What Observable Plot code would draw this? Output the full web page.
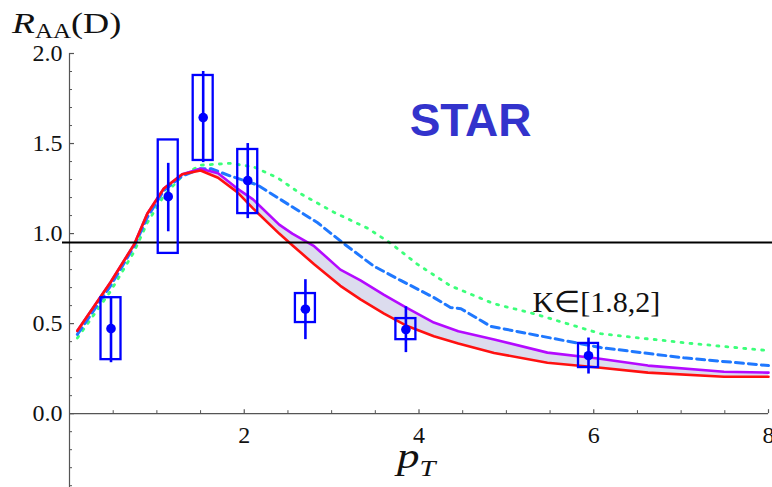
<!DOCTYPE html>
<html><head><meta charset="utf-8">
<script src="https://cdn.jsdelivr.net/npm/d3@7"></script>
<script src="https://cdn.jsdelivr.net/npm/@observablehq/plot@0.6"></script>
<style>body{margin:0;background:#fff;} #chart{width:772px;height:487px;}</style>
</head><body><div id="chart"></div>
<script>
// ---- theory curves (red / magenta band share x grid) ----
const bandX   = [0.09,0.47,0.74,0.89,1.08,1.29,1.5,1.7,1.92,2.1,2.4,2.55,2.8,3.1,3.33,3.6,3.85,4.17,4.45,4.86,5.47,6.05,6.62,7.49,8.0];
const redY    = [0.46,0.73,0.94,1.11,1.25,1.33,1.35,1.31,1.23,1.14,1.0,0.935,0.83,0.71,0.635,0.556,0.49,0.43,0.39,0.337,0.283,0.256,0.228,0.205,0.205];
const magentaY= [0.46,0.73,0.94,1.11,1.25,1.33,1.36,1.335,1.25,1.19,1.05,1.0,0.93,0.8,0.74,0.66,0.59,0.506,0.458,0.412,0.339,0.306,0.267,0.233,0.228];
const blueX   = [0.09,0.47,0.74,0.89,1.08,1.29,1.5,1.62,1.84,2.15,2.38,2.84,3.14,3.48,3.79,4.17,4.36,4.48,4.82,5.51,6.08,7.03,8.0];
const blueY   = [0.44,0.71,0.93,1.09,1.24,1.32,1.36,1.36,1.32,1.27,1.2,1.06,0.944,0.82,0.74,0.645,0.59,0.583,0.485,0.42,0.367,0.31,0.267];
const greenX  = [0.09,0.47,0.74,0.89,1.08,1.29,1.5,1.84,2.11,2.38,2.65,3.02,3.41,3.68,3.98,4.36,4.86,5.31,6.08,7.03,8.0];
const greenY  = [0.42,0.68,0.9,1.06,1.21,1.32,1.38,1.39,1.37,1.31,1.22,1.12,1.03,0.945,0.83,0.71,0.61,0.556,0.444,0.394,0.35];
// ---- STAR data ----
const ptX   = [0.475,1.13,1.53,2.04,2.70,3.85,5.94];
const ptY   = [0.472,1.205,1.644,1.294,0.58,0.467,0.322];
const statLo= [0.283,1.01,1.394,1.083,0.411,0.339,0.22];
const statHi= [0.64,1.39,1.9,1.5,0.744,0.594,0.42];
const sysLo = [0.3,0.89,1.406,1.111,0.506,0.411,0.256];
const sysHi = [0.644,1.52,1.878,1.467,0.667,0.528,0.39];
const refLine = 0.95;
// ---- ticks ----
const xMajor = [2,4,6,8];
const xMinor = [0.5,1,1.5,2.5,3,3.5,4.5,5,5.5,6.5,7,7.5];
const yMajor = [0,0.5,1,1.5,2];
const yMinor = [-0.4,-0.3,-0.2,-0.1,0.1,0.2,0.3,0.4,0.6,0.7,0.8,0.9,1.1,1.2,1.3,1.4,1.6,1.7,1.8,1.9];
const annK = "K∈[1.8,2]";
const annStar = "STAR";

const W=772,H=487, mL=69, mR=4, mT=53, mB=0;
const xDomain=[0,8], yDomain=[-0.41,2.0];
const ux=(xDomain[1]-xDomain[0])/(W-mL-mR);
const uy=(yDomain[1]-yDomain[0])/(H-mT-mB);
const boxHalf = 10*ux;

const band = bandX.map((x,i)=>({x, red:redY[i], mag:magentaY[i]}));
const blue = blueX.map((x,i)=>({x, y:blueY[i]}));
const green = greenX.map((x,i)=>({x, y:greenY[i]}));
const pts = ptX.map((x,i)=>({x, y:ptY[i], lo:statLo[i], hi:statHi[i], slo:sysLo[i], shi:sysHi[i]}));
const axisCol="#555";
const serif="Liberation Serif, Times New Roman, serif";

const chart = Plot.plot({
  width:W, height:H, marginLeft:mL, marginRight:mR, marginTop:mT, marginBottom:mB,
  x:{domain:xDomain, axis:null}, y:{domain:yDomain, axis:null},
  style:{background:"white", fontFamily:serif},
  marks:[
    // axes
    Plot.ruleX([0],{y1:yDomain[0], y2:yDomain[1], stroke:axisCol, strokeWidth:1.2}),
    Plot.ruleY([0],{x1:xDomain[0], x2:xDomain[1], stroke:axisCol, strokeWidth:1.2}),
    Plot.ruleY(yMajor,{y:d=>d, x1:0, x2:5*ux, stroke:axisCol, strokeWidth:1.2}),
    Plot.ruleY(yMinor,{y:d=>d, x1:0, x2:3*ux, stroke:axisCol, strokeWidth:1}),
    Plot.ruleX(xMajor,{x:d=>d, y1:0, y2:4*uy, stroke:axisCol, strokeWidth:1.2}),
    Plot.ruleX(xMinor,{x:d=>d, y1:0, y2:3*uy, stroke:axisCol, strokeWidth:1}),
    Plot.text(yMajor,{x:0, y:d=>d, text:d=>d.toFixed(1), textAnchor:"end", dx:-7, fontSize:24, fill:"#111"}),
    Plot.text(xMajor,{x:d=>d, y:0, text:d=>String(d), dy:22, fontSize:24, fill:"#111"}),
    // band + curves
    Plot.areaY(band,{x:"x", y1:"red", y2:"mag", fill:"#dcdcee"}),
    Plot.lineY(green,{x:"x", y:"y", stroke:"#3cff7a", strokeWidth:2.8, strokeDasharray:"2,7"}),
    Plot.lineY(blue,{x:"x", y:"y", stroke:"#1f78ff", strokeWidth:3, strokeDasharray:"8,5"}),
    Plot.lineY(band,{x:"x", y:"mag", stroke:"#b40aff", strokeWidth:2.6}),
    Plot.lineY(band,{x:"x", y:"red", stroke:"#ff1010", strokeWidth:2.6}),
    // reference line
    Plot.ruleY([refLine],{x1:-7*ux, x2:xDomain[1]+4*ux, stroke:"#000", strokeWidth:2}),
    // data
    Plot.rect(pts,{x1:d=>d.x-boxHalf, x2:d=>d.x+boxHalf, y1:"slo", y2:"shi", stroke:"#0000ff", strokeWidth:2.3, fill:"none"}),
    Plot.ruleX(pts,{x:"x", y1:"lo", y2:"hi", stroke:"#0000ff", strokeWidth:2.6}),
    Plot.dot(pts,{x:"x", y:"y", r:4.8, fill:"#0000ff", stroke:"none"}),
    // annotations
    Plot.text([annStar],{x:4.59, y:1.625, text:d=>d, fontFamily:"Liberation Sans, Arial, sans-serif", fontWeight:"bold", fontSize:46, fill:"#3333cc"}),
    Plot.text([annK],{x:6.03, y:0.617, text:d=>d, fontSize:30, fill:"#111"})
  ]
});
document.getElementById("chart").appendChild(chart);

// axis titles with subscripts
const svg = d3.select(chart);
const g1 = svg.append("g").attr("transform","translate(12,33) scale(1.25,1)");
const t1 = g1.append("text").attr("font-family",serif).attr("fill","#111").attr("text-anchor","start");
t1.append("tspan").attr("font-size",30).attr("font-style","italic").text("R");
t1.append("tspan").attr("font-size",20).attr("dy",5).text("AA");
t1.append("tspan").attr("font-size",29).attr("dy",-5).text("(D)");
const g2 = svg.append("g").attr("transform","translate(397,468) scale(1.25,1)");
const t2 = g2.append("text").attr("font-family",serif).attr("fill","#111").attr("text-anchor","start");
t2.append("tspan").attr("font-size",36).attr("font-style","italic").text("p");
t2.append("tspan").attr("font-size",23).attr("font-style","italic").attr("dy",8).text("T");
</script>
</body></html>
